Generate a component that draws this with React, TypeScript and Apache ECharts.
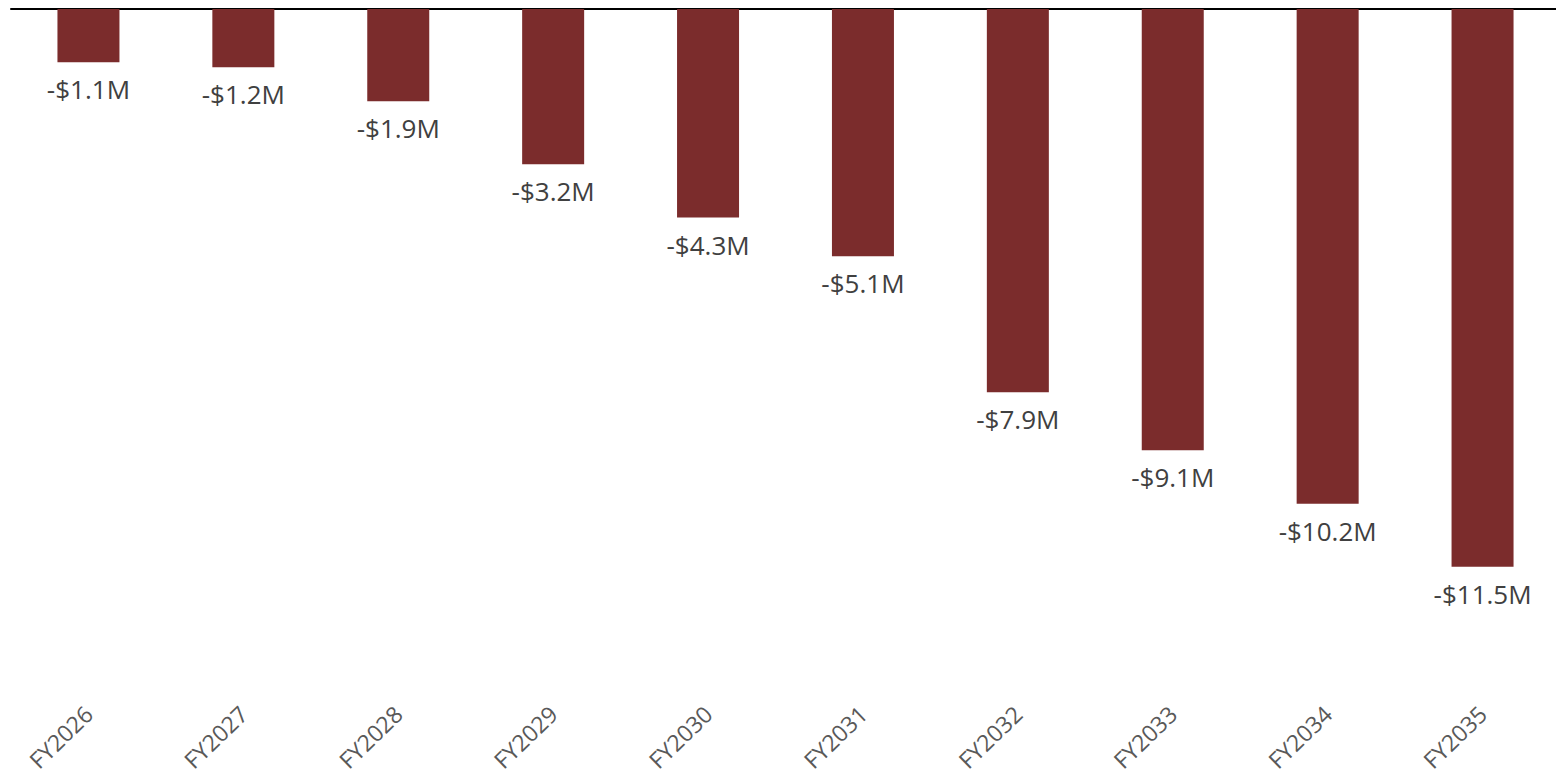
import React, { useEffect, useRef } from "react";
import * as echarts from "echarts";

const categories = ["FY2026", "FY2027", "FY2028", "FY2029", "FY2030", "FY2031", "FY2032", "FY2033", "FY2034", "FY2035"];
const values = [-1.1, -1.2, -1.9, -3.2, -4.3, -5.1, -7.9, -9.1, -10.2, -11.5];

export default function App() {
  const ref = useRef<HTMLDivElement>(null);
  useEffect(() => {
    const chart = echarts.init(ref.current!, null, { renderer: "svg" });
    chart.setOption({
      animation: false,
      backgroundColor: "#ffffff",
      grid: { left: 11, top: 9, width: 1549, height: 679 },
      xAxis: [
        {
          type: "category",
          data: categories,
          position: "bottom",
          axisLine: { show: false, onZero: false },
          axisTick: { show: false },
          axisLabel: {
            rotate: 44,
            margin: 22,
            fontSize: 23,
            fontFamily: "Open Sans",
            color: "#595959",
          },
        },
        {
          type: "category",
          data: categories,
          position: "top",
          axisLine: { show: true, onZero: false, lineStyle: { color: "#000000", width: 2 } },
          axisTick: { show: false },
          axisLabel: { show: false },
        },
      ],
      yAxis: {
        type: "value",
        min: -14,
        max: 0,
        show: false,
        splitLine: { show: false },
      },
      series: [
        {
          type: "bar",
          data: values,
          xAxisIndex: 0,
          barWidth: 62,
          itemStyle: { color: "#7B2C2C" },
          label: {
            show: true,
            position: "bottom",
            distance: 14,
            fontSize: 26,
            fontFamily: "Open Sans",
            color: "#404040",
            formatter: (p: any) => "-$" + Math.abs(p.value).toFixed(1) + "M",
          },
        },
      ],
    });
    return () => chart.dispose();
  }, []);
  return (
    <div style={{ position: "fixed", left: 0, top: 0, width: 1556, height: 781, overflow: "hidden", background: "#fff" }}>
      <div ref={ref} style={{ width: 1570, height: 781 }} />
    </div>
  );
}
